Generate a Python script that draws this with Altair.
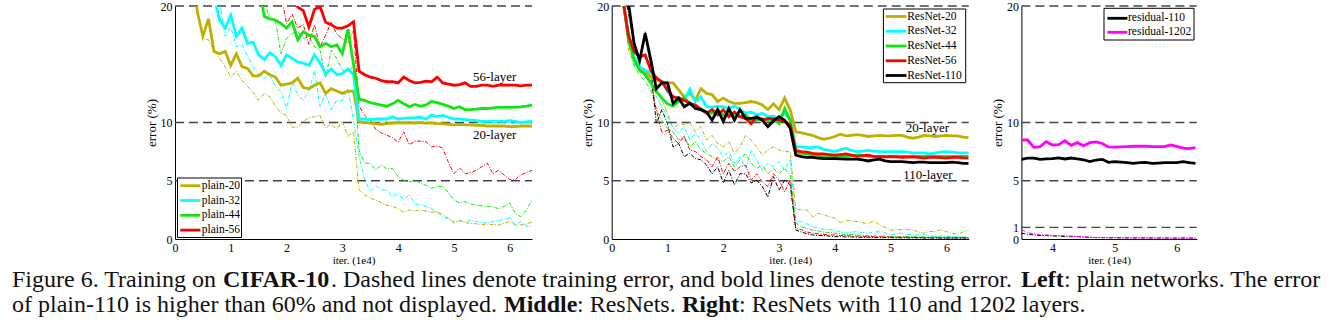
import altair as alt
import pandas as pd

N = None
FONT = "Liberation Serif"

# ---------------- data ----------------
X = [0.2, 0.3, 0.4, 0.5, 0.6, 0.7, 0.8, 0.9,
     1.0, 1.1, 1.2, 1.3, 1.4, 1.5, 1.6, 1.7, 1.8, 1.9,
     2.0, 2.1, 2.2, 2.3, 2.4, 2.5, 2.6, 2.7, 2.8, 2.9,
     3.0, 3.1, 3.2, 3.3, 3.4, 3.5, 3.6, 3.7, 3.8, 3.9,
     4.0, 4.1, 4.2, 4.3, 4.4, 4.5, 4.6, 4.7, 4.8, 4.9,
     5.0, 5.1, 5.2, 5.3, 5.4, 5.5, 5.6, 5.7, 5.8, 5.9,
     6.0, 6.1, 6.2, 6.3, 6.4]

X_R = [3.5, 3.6, 3.7, 3.8, 3.9,
       4.0, 4.1, 4.2, 4.3, 4.4, 4.5, 4.6, 4.7, 4.8, 4.9,
       5.0, 5.1, 5.2, 5.3, 5.4, 5.5, 5.6, 5.7, 5.8, 5.9,
       6.0, 6.1, 6.2, 6.3]

PLAIN_NAMES = ["plain-20", "plain-32", "plain-44", "plain-56"]
RES_NAMES = ["ResNet-20", "ResNet-32", "ResNet-44", "ResNet-56", "ResNet-110"]
DEEP_NAMES = ["residual-110", "residual-1202"]

# plain networks: bold = test error, dashed = training error
plain20_test = [N, 24, 19.5, 17.4, 18.9, 16.1, 15.9, 16.1,
                14.9, 15.9, 14.8, 14.65, 14.0, 14.0, 14.4, 14.1, 13.9, 13.2,
                13.3, 13.4, 13.8, 13.0, 12.9, 13.2, 13.4, 12.5, 12.9, 12.7,
                12.5, 12.7, 12.7, 10.1, 10.0, 9.95, 9.9, 9.85, 9.9, 9.95,
                10.0, 9.95, 10.0, 9.95, 10.0, 9.95, 9.95, 9.9, 9.9, 9.85,
                9.8, 9.85, 9.8, 9.8, 9.75, 9.75, 9.7, 9.7, 9.7, 9.7,
                9.65, 9.65, 9.7, 9.7, 9.7]
plain20_train = [N, 23, 19.9, 17.2, 17.1, 16.2, 15.5, 14.8,
                 13.9, 14.4, 13.6, 13.1, 12.6, 11.9, 12.5, 12.2, 11.4, 10.8,
                 10.6, 9.6, 9.6, 10.1, 10.4, 10.5, 10.6, 9.5, 9.9, 9.4,
                 10.1, 8.8, 9.2, 4.2, 3.8, 3.5, 3.35, 3.1, 2.9, 2.8,
                 2.6, 2.3, 2.5, 2.4, 2.5, 2.4, 2.3, 2.35, 2.1, 1.8,
                 1.35, 1.6, 1.4, 1.35, 1.3, 1.25, 1.2, 1.25, 1.2, 1.35,
                 1.5, 1.2, 1.2, 1.3, 1.45]
plain32_test = [N, N, N, N, N, 20.8, 18.8, 18.1,
                19.2, 17.4, 18.1, 16.8, 16.9, 15.8, 15.4, 16.0, 15.65, 14.9,
                15.8, 15.5, 15.2, 15.1, 14.9, 15.8, 15.1, 14.2, 14.6, 14.1,
                14.2, 14.6, 14.1, 10.3, 10.3, 10.25, 10.3, 10.3, 10.3, 10.5,
                10.3, 10.35, 10.4, 10.4, 10.45, 10.3, 10.65, 10.5, 10.6, 10.45,
                10.3, 10.3, 10.25, 10.2, 10.15, 10.1, 10.1, 10.1, 10.1, 10.1,
                10.15, 10.1, 10.0, 10.05, 10.1]
plain32_train = [N, N, N, N, N, N, 20.3, 17.4,
                 18.2, 16.5, 16.7, 15.7, 14.8, 14.1, 13.8, 14.1, 13.1, 12.65,
                 11.2, 13.4, 12.4, 11.9, 12.65, 14.5, 11.4, 12.5, 11.1, 11.9,
                 11.9, 12.9, 10.2, 7.1, 5.1, 4.1, 4.6, 4.2, 4.2, 3.6,
                 3.9, 3.35, 3.8, 3.05, 2.9, 2.8, 2.6, 2.3, 1.9, 1.7,
                 1.5, 1.55, 1.5, 1.6, 1.5, 1.4, 1.35, 1.5, 1.6, 1.7,
                 1.8, 1.2, 1.5, 1.1, 1.1]
plain44_test = [N, N, N, N, N, N, N, N,
                N, N, N, N, N, 22, 19.1, 18.9, 18.8, 18.5,
                18.1, 18.65, 17.1, 17.8, 17.5, 17.4, 16.5, 16.8, 16.5, 16.65,
                15.9, 18.0, 15.0, 12.0, 11.9, 11.7, 11.6, 11.5, 11.4, 11.6,
                11.9, 11.6, 11.35, 11.55, 11.4, 11.5, 11.8, 11.7, 11.55, 11.4,
                11.2, 11.35, 11.1, 11.1, 11.15, 11.2, 11.2, 11.25, 11.3, 11.3,
                11.3, 11.3, 11.35, 11.4, 11.5]
plain44_train = [N, N, N, N, N, N, N, N,
                 N, N, N, N, N, N, 20.4, 18.9, 18.7, 15.9,
                 17.2, 17.65, 17.8, 17.2, 17.4, 16.5, 16.2, 13.8, 16.2, 15.5,
                 14.5, 14.4, 14.8, 7.6, 6.5, 6.5, 5.9, 6.35, 6.0, 6.05,
                 5.35, 5.05, 4.9, 5.05, 4.8, 4.6, 4.35, 4.5, 4.5, 4.0,
                 3.35, 3.1, 3.2, 3.0, 2.9, 2.85, 2.8, 2.75, 2.6, 2.8,
                 3.1, 2.2, 1.9, 2.5, 3.35]
plain56_test = [N, N, N, N, N, N, N, N,
                N, N, N, N, N, N, N, N, N, N,
                N, 22, 19.9, 19.6, 18.2, 19.7, 19.95, 18.6, 18.4, 18.1,
                18.1, 18.3, 18.65, 14.4, 14.1, 13.9, 13.8, 13.6, 13.5, 13.5,
                13.4, 13.9, 13.6, 13.4, 13.45, 13.55, 13.5, 13.9, 13.4, 13.3,
                13.2, 13.25, 13.4, 13.1, 13.1, 13.2, 13.2, 13.1, 13.2, 13.2,
                13.2, 13.2, 13.15, 13.2, 13.2]
plain56_train = [N, N, N, N, N, N, N, N,
                 N, N, N, N, N, N, N, N, N, 21,
                 18.5, 19.3, 18.1, 18.4, 16.7, 18.4, 16.5, 17.5, 18.6, 17.6,
                 17.2, 16.8, 17.9, 11.4, 10.6, 10.2, 9.4, 9.1, 8.9, 8.7,
                 8.3, 9.2, 8.1, 8.4, 8.4, 8.35, 7.9, 8.0, 7.8, 6.6,
                 5.6, 6.1, 5.6, 5.7, 5.9, 6.2, 6.5, 5.6, 5.9, 5.5,
                 5.1, 5.1, 5.5, 5.7, 5.9]

# ResNets
res20_test = [20.6, 17.4, 15.5, 14.6, 14.4, 13.9, 13.7, 13.5,
              13.4, 13.4, 12.8, 12.2, 12.5, 11.9, 12.9, 12.5, 12.4, 11.8,
              12.1, 11.8, 11.65, 11.65, 11.7, 11.8, 11.7, 11.5, 11.1, 11.6,
              11.1, 12.1, 11.1, 9.2, 9.1, 9.0, 8.9, 8.7, 8.55, 8.65,
              8.8, 9.0, 8.85, 8.9, 8.95, 8.9, 8.8, 8.85, 8.9, 8.85,
              8.85, 8.9, 8.9, 8.75, 8.65, 8.75, 8.9, 8.85, 8.8, 8.85,
              8.9, 8.85, 8.85, 8.75, 8.7]
res20_train = [20.5, 16.2, 15.1, 14.5, 14.1, 13.5, 12.9, 11.9,
               10.8, 9.5, 9.9, 9.8, 10.0, 9.2, 9.65, 8.5, 8.9, 8.2,
               7.9, 8.35, 7.35, 7.9, 8.9, 8.5, 7.9, 7.2, 7.65, 7.9,
               7.65, 7.5, 7.5, 2.6, 2.5, 2.5, 1.9, 2.2, 2.1, 1.9,
               1.8, 1.4, 1.6, 1.55, 1.5, 1.4, 1.3, 1.6, 1.2, 1.0,
               0.77, 0.8, 0.83, 0.8, 0.77, 0.6, 0.5, 0.65, 0.63, 0.8,
               0.63, 0.5, 0.4, 0.6, 0.77]
res32_test = [20.6, 17.65, 15.65, 14.8, 14.5, 14.3, 13.9, 13.5,
              12.65, 12.2, 12.1, 11.9, 12.85, 11.8, 12.2, 11.35, 11.3, 11.4,
              11.35, 11.2, 11.4, 11.1, 10.8, 10.9, 10.65, 10.8, 10.5, 10.55,
              10.35, 10.8, 10.2, 7.9, 7.9, 7.85, 7.85, 7.9, 7.7, 7.6,
              7.5, 7.65, 7.8, 7.6, 7.5, 7.55, 7.6, 7.55, 7.5, 7.5,
              7.5, 7.5, 7.5, 7.45, 7.4, 7.4, 7.4, 7.3, 7.4, 7.45,
              7.5, 7.45, 7.4, 7.4, 7.4]
res32_train = [20.5, 17.0, 15.0, 14.4, 14.1, 13.65, 12.2, 11.35,
               10.5, 9.5, 9.1, 9.65, 8.5, 9.1, 8.5, 7.5, 8.2, 7.8,
               7.07, 7.5, 6.5, 7.07, 6.05, 7.65, 6.8, 5.9, 6.5, 6.2,
               6.65, 5.9, 6.8, 1.6, 1.5, 1.3, 1.05, 0.95, 0.83, 0.8,
               0.77, 0.6, 0.5, 0.6, 0.63, 0.55, 0.5, 0.6, 0.7, 0.5,
               0.35, 0.45, 0.5, 0.4, 0.35, 0.35, 0.35, 0.3, 0.2, 0.25,
               0.25, 0.2, 0.2, 0.18, 0.15]
res44_test = [20.6, 17.1, 15.4, 14.5, 14.1, 13.4, 12.65, 12.1,
              11.6, 11.4, 11.8, 12.1, 11.65, 11.35, 11.2, 10.8, 10.8, 11.1,
              10.65, 10.8, 10.65, 10.5, 10.65, 10.2, 10.2, 10.35, 10.15, 10.3,
              9.9, 11.2, 10.2, 7.5, 7.35, 7.3, 7.2, 7.15, 7.07, 7.1,
              7.1, 7.1, 7.1, 7.15, 7.2, 7.15, 7.1, 7.1, 7.1, 7.1,
              7.1, 7.12, 7.08, 7.1, 7.12, 7.1, 7.08, 7.1, 7.12, 7.1,
              7.1, 7.1, 7.1, 7.1, 7.1]
res44_train = [20.5, 16.8, 14.9, 14.1, 13.5, 12.8, 11.1, 10.2,
               9.5, 9.2, 8.5, 8.8, 7.9, 8.35, 7.65, 7.35, 7.07, 6.8,
               6.65, 7.07, 6.2, 6.8, 7.35, 6.5, 6.05, 6.35, 5.6, 6.05,
               5.6, 6.05, 5.5, 1.35, 1.05, 0.9, 0.77, 0.7, 0.6, 0.55,
               0.5, 0.45, 0.35, 0.4, 0.35, 0.3, 0.3, 0.28, 0.25, 0.25,
               0.22, 0.2, 0.22, 0.2, 0.18, 0.2, 0.18, 0.15, 0.17, 0.15,
               0.15, 0.15, 0.14, 0.15, 0.15]
res56_test = [20.6, 17.5, 16.1, 15.65, 15.8, 14.5, 13.8, 13.5,
              12.8, 12.2, 12.1, 11.9, 11.65, 11.5, 11.1, 10.8, 11.1, 10.65,
              11.1, 10.5, 10.9, 10.5, 10.35, 9.9, 10.5, 10.2, 10.35, 10.3,
              10.2, 10.1, 9.8, 7.6, 7.5, 7.45, 7.35, 7.3, 7.3, 7.25,
              7.2, 7.25, 7.3, 7.2, 7.1, 7.15, 7.2, 7.1, 7.07, 7.05,
              7.07, 7.05, 7.0, 7.02, 7.05, 7.0, 6.95, 7.0, 7.0, 6.98,
              6.95, 7.0, 7.0, 6.97, 6.95]
res56_train = [20.5, 17.0, 15.4, 14.65, 14.1, 13.5, 11.1, 9.1,
               9.35, 8.65, 8.2, 8.8, 7.65, 7.5, 7.07, 6.8, 6.2, 7.07,
               5.6, 6.5, 5.8, 6.2, 6.35, 5.05, 5.6, 4.9, 4.5, 5.6,
               5.05, 4.05, 5.05, 0.9, 0.8, 0.6, 0.5, 0.45, 0.4, 0.35,
               0.35, 0.3, 0.3, 0.25, 0.25, 0.22, 0.2, 0.2, 0.2, 0.18,
               0.18, 0.15, 0.15, 0.15, 0.14, 0.13, 0.12, 0.12, 0.12, 0.1,
               0.1, 0.1, 0.1, 0.1, 0.1]
res110_test = [N, 20.3, 16.8, 15.3, 17.65, 15.4, 12.9, 13.4,
               13.4, 11.65, 12.1, 11.35, 11.65, 11.2, 11.1, 10.9, 10.2, 11.1,
               10.1, 11.2, 10.2, 11.1, 10.35, 10.35, 10.45, 10.2, 9.65, 10.15,
               10.5, 10.2, 9.5, 7.2, 7.07, 7.0, 7.0, 6.95, 6.9, 6.9,
               6.9, 6.88, 6.85, 6.85, 6.85, 6.8, 6.7, 6.8, 6.85, 6.7,
               6.65, 6.65, 6.65, 6.6, 6.55, 6.6, 6.6, 6.55, 6.55, 6.55,
               6.55, 6.6, 6.55, 6.5, 6.5]
res110_train = [22, 19.4, 16.65, 15.2, 17.8, 14.8, 9.9, 11.1,
                9.9, 7.9, 8.2, 7.07, 7.35, 6.9, 6.8, 6.35, 5.6, 6.2,
                4.8, 5.9, 4.65, 5.6, 5.6, 4.8, 5.05, 4.5, 3.6, 5.35,
                4.2, 5.05, 4.65, 0.77, 0.6, 0.45, 0.35, 0.3, 0.3, 0.25,
                0.2, 0.2, 0.18, 0.18, 0.15, 0.15, 0.15, 0.13, 0.12, 0.12,
                0.12, 0.1, 0.1, 0.1, 0.1, 0.1, 0.08, 0.08, 0.08, 0.08,
                0.08, 0.08, 0.08, 0.08, 0.08]

# 110 vs 1202 layers (x from 3.5)
deep110_test = [6.84, 6.95, 6.95, 6.84, 6.88,
                6.9, 6.97, 6.87, 6.95, 6.88, 6.8, 6.64, 6.78, 6.84, 6.58,
                6.64, 6.6, 6.55, 6.5, 6.55, 6.58, 6.5, 6.52, 6.55, 6.55,
                6.55, 6.64, 6.55, 6.5]
deep1202_test = [8.5, 8.5, 7.87, 7.93, 8.35,
                 8.07, 8.1, 8.44, 8.04, 8.27, 8.0, 8.27, 8.33, 8.2, 7.9,
                 7.88, 7.9, 7.93, 7.96, 7.98, 7.96, 7.93, 7.93, 7.93, 8.07,
                 7.95, 7.8, 7.75, 7.84]
deep110_train = [0.5, 0.4, 0.35, 0.3, 0.3,
                 0.25, 0.25, 0.2, 0.2, 0.2, 0.15, 0.15, 0.12, 0.12, 0.1,
                 0.12, 0.1, 0.1, 0.09, 0.1, 0.09, 0.09, 0.08, 0.09, 0.08,
                 0.08, 0.09, 0.08, 0.08]
deep1202_train = [0.8, 0.55, 0.45, 0.35, 0.35,
                  0.3, 0.3, 0.28, 0.25, 0.22, 0.2, 0.15, 0.12, 0.12, 0.1,
                  0.1, 0.1, 0.09, 0.08, 0.08, 0.08, 0.07, 0.08, 0.07, 0.07,
                  0.06, 0.07, 0.06, 0.06]

# in-plot annotations (data coordinates)
NOTES_LEFT = {"label": ["56-layer", "20-layer"], "x": [5.73, 5.73], "y": [13.9, 8.93]}
NOTES_MID = {"label": ["20-layer", "110-layer"], "x": [5.66, 5.67], "y": [9.53, 5.49]}

# caption text
CAP1 = ["Figure 6. Training on", "CIFAR-10",
        ". Dashed lines denote training error,", "and bold lines denote testing error.",
        "Left", ": plain networks. The error"]
CAP1_BOLD = [False, True, False, False, True, False]
CAP2 = ["of plain-110 is higher than 60% and not displayed.", "Middle", ": ResNets.",
        "Right", ": ResNets with 110 and 1202 layers."]
CAP2_BOLD = [False, True, False, True, False]

# ---------------- styling / layout ----------------
OLIVE, CYAN, GREEN, RED, BLACK, MAGENTA = "#bfb000", "#00ffff", "#11e611", "#ff0000", "#000000", "#ff00ff"

PANEL_H = 233
PLOT_W = {"left": 357, "mid": 357, "right": 175.3}
SPACING = 52.7
LEFT_EXTRA = 26.3          # extra gap between left and middle panels
ORIGIN_X, ORIGIN_Y = 175, 6

CAP1_X = [12, 223, 331, 680, 1021, 1064]
CAP2_X = [12, 504, 577, 682, 739]
CAP1_Y, CAP2_Y = 286.7, 311.7


def long_df(names, xs, tests, trains):
    rows = []
    for n, te, tr in zip(names, tests, trains):
        for x, y in zip(xs, te):
            if y is not None:
                rows.append({"series": n, "kind": "test", "x": x, "y": y})
        for x, y in zip(xs, tr):
            if y is not None:
                rows.append({"series": n, "kind": "train", "x": x, "y": y})
    return pd.DataFrame(rows)


def panel(names, colors, xs, tests, trains, xdomain, xticks, yticks, gridvals,
          plot_w, view_w, legend, notes=None, extra=()):
    df = long_df(names, xs, tests, trains)
    xsc = alt.Scale(domain=xdomain, nice=False, zero=False, range=[0, plot_w])
    ysc = alt.Scale(domain=[0, 20], nice=False)
    csc = alt.Scale(domain=names, range=colors)
    xenc = alt.X("x:Q", scale=xsc, axis=alt.Axis(values=xticks, format="d", title="iter. (1e4)"))
    yenc = alt.Y("y:Q", scale=ysc, axis=alt.Axis(values=yticks, format="d", title="error (%)"))

    layers = []
    layers.append(
        alt.Chart(pd.DataFrame({"y": gridvals}))
        .mark_rule(color="#444444", strokeWidth=1.3, strokeDash=[9, 5])
        .encode(y=yenc, x=alt.value(0), x2=alt.value(plot_w))
    )
    layers.append(
        alt.Chart(df[df.kind == "train"])
        .mark_line(strokeWidth=1, strokeDash=[4, 1.5, 1, 1.5], clip=True)
        .encode(x=xenc, y=yenc, color=alt.Color("series:N", scale=csc, legend=None),
                detail="series:N", order="x:Q")
    )
    layers.append(
        alt.Chart(df[df.kind == "test"])
        .mark_line(strokeWidth=2.8, clip=True)
        .encode(x=xenc, y=yenc, color=alt.Color("series:N", scale=csc, legend=None),
                detail="series:N", order="x:Q")
    )
    if notes is not None:
        layers.append(
            alt.Chart(pd.DataFrame(notes))
            .mark_text(font=FONT, fontSize=13, color="black", align="center", baseline="middle")
            .encode(x=xenc, y=yenc, text="label:N")
        )
    # legend box
    bx0, by0, bx1, by1 = legend["box"]
    layers.append(
        alt.Chart(pd.DataFrame({"k": [0]}))
        .mark_rect(fill="white", stroke="black", strokeWidth=1)
        .encode(x=alt.value(bx0), x2=alt.value(bx1), y=alt.value(by0), y2=alt.value(by1))
    )
    for i, (n, c) in enumerate(zip(names, colors)):
        yy = legend["y0"] + i * legend["dy"]
        one = pd.DataFrame({"series": [n]})
        layers.append(
            alt.Chart(one).mark_rule(color=c, strokeWidth=2.8)
            .encode(x=alt.value(legend["sx0"]), x2=alt.value(legend["sx1"]), y=alt.value(yy))
        )
        layers.append(
            alt.Chart(one).mark_text(font=FONT, fontSize=11.5, color="black",
                                     align="left", baseline="middle")
            .encode(x=alt.value(legend["tx"]), y=alt.value(yy), text="series:N")
        )
    layers.extend(extra)
    return alt.layer(*layers).properties(width=view_w, height=PANEL_H)


# caption marks (placed in the left panel, outside its plot area)
caption = []
for txt, b, x in zip(CAP1, CAP1_BOLD, CAP1_X):
    caption.append(
        alt.Chart(pd.DataFrame({"t": [txt]}))
        .mark_text(font=FONT, fontSize=24, color="#111111", align="left", baseline="alphabetic",
                   fontWeight="bold" if b else "normal")
        .encode(x=alt.value(x - ORIGIN_X), y=alt.value(CAP1_Y - ORIGIN_Y), text="t:N")
    )
for txt, b, x in zip(CAP2, CAP2_BOLD, CAP2_X):
    caption.append(
        alt.Chart(pd.DataFrame({"t": [txt]}))
        .mark_text(font=FONT, fontSize=24, color="#111111", align="left", baseline="alphabetic",
                   fontWeight="bold" if b else "normal")
        .encode(x=alt.value(x - ORIGIN_X), y=alt.value(CAP2_Y - ORIGIN_Y), text="t:N")
    )

left = panel(
    PLAIN_NAMES, [OLIVE, CYAN, GREEN, RED], X,
    [plain20_test, plain32_test, plain44_test, plain56_test],
    [plain20_train, plain32_train, plain44_train, plain56_train],
    [0, 6.4], [0, 1, 2, 3, 4, 5, 6], [0, 5, 10, 20], [5, 10, 20],
    PLOT_W["left"], PLOT_W["left"] + LEFT_EXTRA,
    {"box": (2.5, 172, 66.5, 231.5), "y0": 179.7, "dy": 14.8, "sx0": 5.3, "sx1": 25.3, "tx": 26.8},
    NOTES_LEFT, caption,
)

middle = panel(
    RES_NAMES, [OLIVE, CYAN, GREEN, RED, BLACK], X,
    [res20_test, res32_test, res44_test, res56_test, res110_test],
    [res20_train, res32_train, res44_train, res56_train, res110_train],
    [0, 6.4], [0, 1, 2, 3, 4, 5, 6], [0, 5, 10, 20], [5, 10, 20],
    PLOT_W["mid"], PLOT_W["mid"],
    {"box": (271.7, 3, 354, 76.7), "y0": 10.5, "dy": 14.75, "sx0": 274, "sx1": 294.7, "tx": 295.5},
    NOTES_MID,
)

right = panel(
    DEEP_NAMES, [BLACK, MAGENTA], X_R,
    [deep110_test, deep1202_test],
    [deep110_train, deep1202_train],
    [3.5, 6.32], [4, 5, 6], [0, 1, 5, 10, 20], [1, 5, 10, 20],
    PLOT_W["right"], PLOT_W["right"],
    {"box": (82.6, 2.3, 172.6, 34), "y0": 12.3, "dy": 14, "sx0": 86, "sx1": 106, "tx": 106.6},
)

chart = (
    alt.hconcat(left, middle, right, spacing=SPACING, bounds="flush")
    .resolve_scale(color="independent", x="independent", y="independent")
    .properties(padding={"left": 12, "top": 0, "right": 0, "bottom": 0}, background="white")
    .configure_view(stroke=None)
    .configure_axis(
        domainColor="black", domainWidth=1, ticks=False, tickSize=0, grid=False,
        labelFont=FONT, labelFontSize=12, labelColor="black", labelFlush=False,
        labelOverlap=False, titleFont=FONT, titleFontWeight="normal", titleColor="black",
    )
    .configure_axisX(titleFontSize=11, titlePadding=1, labelPadding=3)
    .configure_axisY(titleFontSize=13, titlePadding=2, labelPadding=3)
)

chart.save("out.html", embed_options={"renderer": "svg", "actions": False})
